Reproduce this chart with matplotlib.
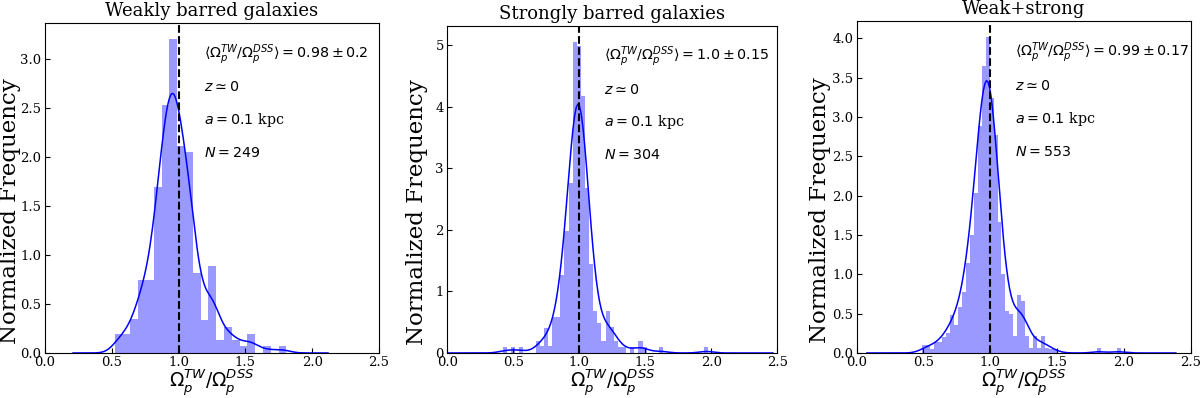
import numpy as np
import matplotlib
matplotlib.use("Agg")
import matplotlib.pyplot as plt
import seaborn as sns

plt.rcParams['font.family'] = 'serif'
plt.rcParams['mathtext.fontset'] = 'dejavusans'

# Weakly barred: 22 bins starting at 0.522, width 0.0584
weak_start, weak_width = 0.522, 0.0584
weak_heights = [0.197, 0.197, 0.35, 0.75, 0.75, 1.70, 2.53, 3.21, 2.11, 2.05, 0.82,
                0.34, 0.89, 0.136, 0.27, 0.136, 0.068, 0.197, 0.0, 0.068, 0.0, 0.068]

# Strongly barred: 50 bins starting at 0.42, width 0.03115
strong_start, strong_width = 0.42, 0.03115
strong_heights = [0.10, 0.0, 0.10, 0.0, 0.10, 0.0, 0.0, 0.0, 0.19, 0.11,
                  0.40, 0.11, 0.59, 0.59, 1.27, 1.98, 2.76, 5.06, 4.98, 4.18,
                  2.68, 1.44, 0.69, 0.49, 0.19, 0.69, 0.43, 0.19, 0.10, 0.10,
                  0.0, 0.10, 0.0, 0.20, 0.10, 0.0, 0.0, 0.0, 0.10, 0.0,
                  0.0, 0.0, 0.0, 0.0, 0.0, 0.0, 0.0, 0.0, 0.0, 0.10]

# Weak+strong: 50 bins starting at 0.49, width 0.0297
all_start, all_width = 0.49, 0.0297
all_heights = [0.10, 0.10, 0.05, 0.14, 0.14, 0.20, 0.25, 0.48, 0.36, 0.58,
               0.78, 1.14, 1.50, 2.03, 2.88, 3.65, 4.02, 3.24, 2.77, 1.67,
               1.00, 0.53, 0.50, 0.21, 0.74, 0.66, 0.22, 0.06, 0.22, 0.06,
               0.22, 0.06, 0.05, 0.05, 0.0, 0.0, 0.0, 0.0, 0.0, 0.0,
               0.0, 0.0, 0.0, 0.0, 0.06, 0.0, 0.0, 0.0, 0.0, 0.06]

titles = ['Weakly barred galaxies', 'Strongly barred galaxies', 'Weak+strong']
mean_labels = ['0.98 \\pm 0.2', '1.0 \\pm 0.15', '0.99 \\pm 0.17']
counts = [249, 304, 553]
bw_factors = [0.30, 0.37, 0.33]


def draw_panel(ax, start, width, heights, title, mean_label, n, bw, ylab_x):
    heights = np.asarray(heights)
    edges = start + width * np.arange(len(heights) + 1)
    centers = 0.5 * (edges[:-1] + edges[1:])
    ax.bar(edges[:-1], heights, width=width, align='edge', color='blue',
           alpha=0.4, linewidth=0)
    sns.kdeplot(x=centers, weights=heights, bw_method=bw, color='blue',
                linewidth=1.1, ax=ax)
    ax.axvline(1.0, color='black', linestyle='--', linewidth=1.5)

    ax.set_xlim(0, 2.5)
    ax.set_xticks([0.0, 0.5, 1.0, 1.5, 2.0, 2.5])
    ax.tick_params(direction='in', labelsize=9.5, pad=2.5)
    ax.set_title(title, fontsize=13, pad=5)
    ax.set_xlabel(r'$\Omega_p^{TW}/\Omega_p^{DSS}$', fontsize=13.5, labelpad=-1.5)
    ax.set_ylabel('Normalized Frequency', fontsize=16.5)
    ax.yaxis.set_label_coords(ylab_x, 0.43)

    fs = 10.3
    ax.text(0.475, 0.905, r'$\langle\Omega_p^{TW}/\Omega_p^{DSS}\rangle = ' + mean_label + '$',
            transform=ax.transAxes, fontsize=fs, va='center')
    ax.text(0.475, 0.805, r'$z \simeq 0$', transform=ax.transAxes, fontsize=fs, va='center')
    ax.text(0.475, 0.705, r'$a = 0.1$ kpc', transform=ax.transAxes, fontsize=fs, va='center')
    ax.text(0.475, 0.605, r'$N = %d$' % n, transform=ax.transAxes, fontsize=fs, va='center')


fig = plt.figure(figsize=(12, 3.98), dpi=100)
ax1 = fig.add_axes([0.0375, 0.1131, 0.2783, 0.8291])
ax2 = fig.add_axes([0.3728, 0.1131, 0.2750, 0.8216])
ax3 = fig.add_axes([0.7139, 0.1131, 0.2783, 0.8342])

draw_panel(ax1, weak_start, weak_width, weak_heights, titles[0], mean_labels[0], counts[0], bw_factors[0], -0.073)
draw_panel(ax2, strong_start, strong_width, strong_heights, titles[1], mean_labels[1], counts[1], bw_factors[1], -0.058)
draw_panel(ax3, all_start, all_width, all_heights, titles[2], mean_labels[2], counts[2], bw_factors[2], -0.078)

fig.savefig('out.png', dpi=100)
